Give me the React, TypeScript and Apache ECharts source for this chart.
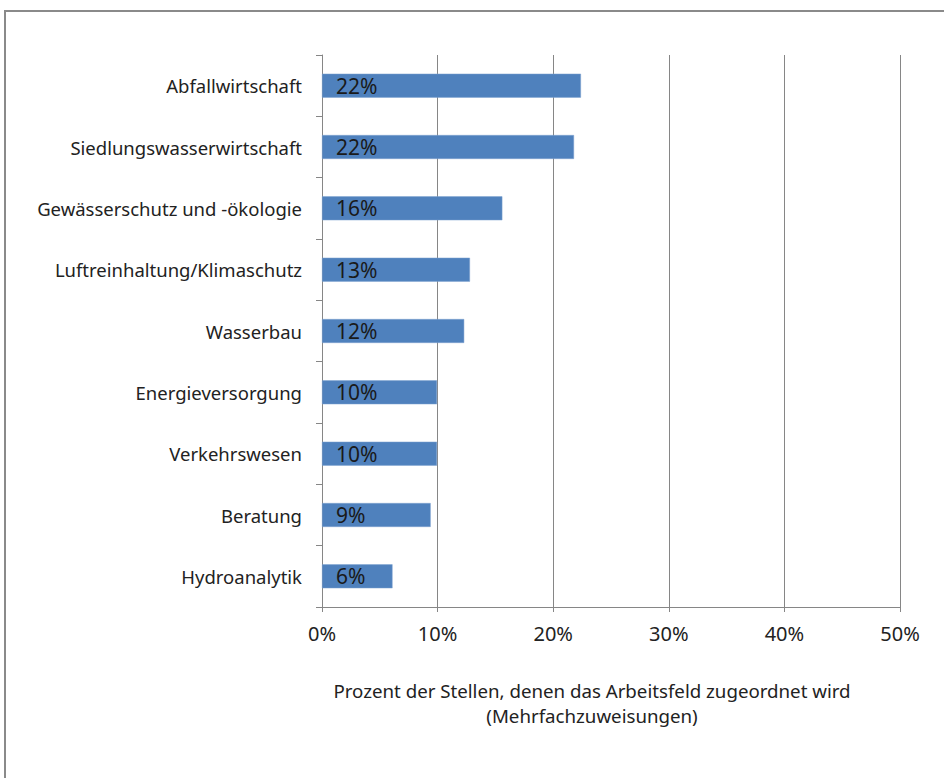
import React, { useEffect, useRef } from "react";
import * as echarts from "echarts";

const categories = [
  "Abfallwirtschaft",
  "Siedlungswasserwirtschaft",
  "Gewässerschutz und -ökologie",
  "Luftreinhaltung/Klimaschutz",
  "Wasserbau",
  "Energieversorgung",
  "Verkehrswesen",
  "Beratung",
  "Hydroanalytik",
];
const values = [22.4, 21.8, 15.6, 12.8, 12.3, 9.95, 9.95, 9.4, 6.1];
const axisTitleLines = [
  "Prozent der Stellen, denen das Arbeitsfeld zugeordnet wird",
  "(Mehrfachzuweisungen)",
];

const FONT = "'Noto Sans', 'Open Sans', sans-serif";

export default function App() {
  const ref = useRef<HTMLDivElement>(null);
  useEffect(() => {
    if (!ref.current) return;
    const chart = echarts.init(ref.current, null, { renderer: "svg" });
    chart.setOption({
      animation: false,
      backgroundColor: "#ffffff",
      textStyle: { fontFamily: FONT },
      grid: { left: 322, right: 44, top: 55, bottom: 171, containLabel: false },
      xAxis: {
        type: "value",
        min: 0,
        max: 50,
        interval: 10,
        axisLabel: {
          formatter: "{value}%",
          color: "#222",
          fontSize: 20,
          margin: 16,
          fontFamily: FONT,
        },
        axisLine: { show: true, lineStyle: { color: "#868686", width: 1 } },
        axisTick: { show: true, length: 5, lineStyle: { color: "#868686" } },
        splitLine: { show: true, lineStyle: { color: "#868686", width: 1 } },
      },
      yAxis: {
        type: "category",
        data: categories,
        inverse: true,
        axisLabel: { color: "#222", fontSize: 18.5, margin: 20, fontFamily: FONT },
        axisLine: { show: true, lineStyle: { color: "#868686", width: 1 } },
        axisTick: { show: true, length: 6, lineStyle: { color: "#868686" } },
        splitLine: { show: false },
      },
      series: [
        {
          type: "bar",
          data: values,
          barCategoryGap: "61%",
          itemStyle: { color: "#4F81BD", borderColor: "#7FA3D0", borderWidth: 0.5 },
          label: {
            show: true,
            position: "insideLeft",
            distance: 14,
            formatter: (p: any) => Math.round(p.value) + "%",
            color: "#1a1a1a",
            fontSize: 21,
            fontFamily: FONT,
          },
        },
      ],
      graphic: [
        {
          type: "rect",
          shape: { x: 5, y: 11, width: 960, height: 800 },
          style: { fill: "none", stroke: "#8a8a8a", lineWidth: 2 },
          silent: true,
        },
        {
          type: "text",
          x: 592,
          y: 690,
          style: {
            text: axisTitleLines[0],
            textAlign: "center",
            textVerticalAlign: "middle",
            fontSize: 18.7,
            fontFamily: FONT,
            fill: "#222",
          },
        },
        {
          type: "text",
          x: 592,
          y: 715,
          style: {
            text: axisTitleLines[1],
            textAlign: "center",
            textVerticalAlign: "middle",
            fontSize: 18.7,
            fontFamily: FONT,
            fill: "#222",
          },
        },
      ],
    });
    return () => chart.dispose();
  }, []);
  return (
    <div
      ref={ref}
      style={{ position: "absolute", left: 0, top: 0, width: 944, height: 778 }}
    />
  );
}
